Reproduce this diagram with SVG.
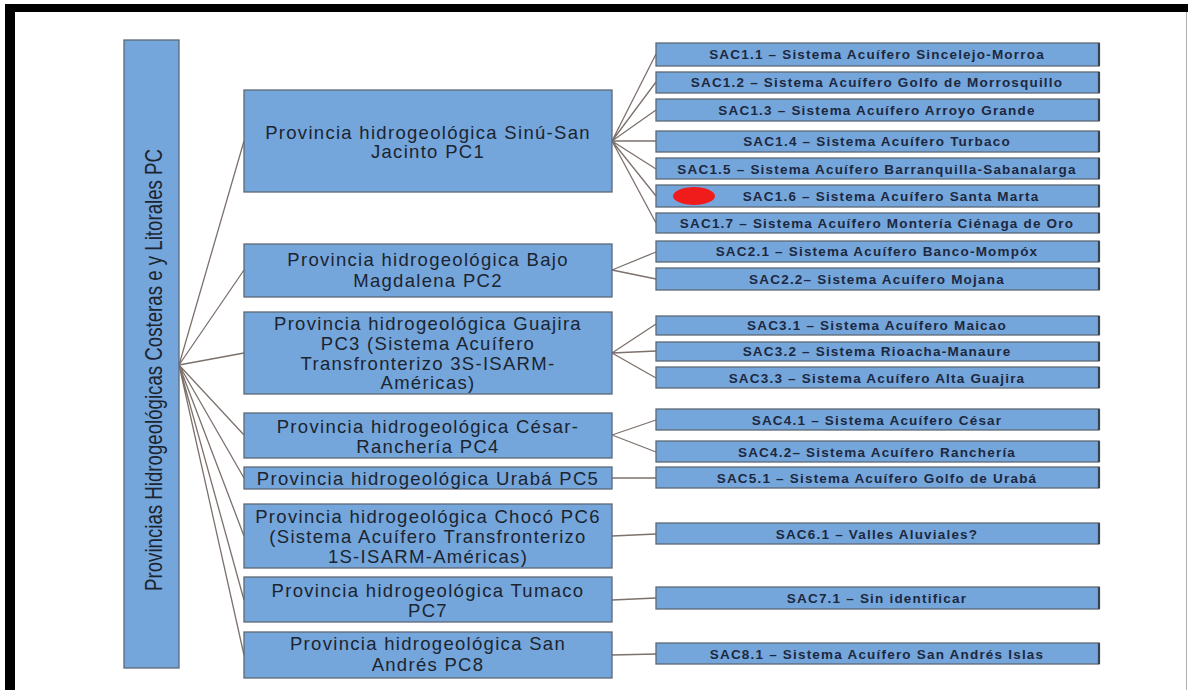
<svg xmlns="http://www.w3.org/2000/svg" width="1188" height="690" viewBox="0 0 1188 690">
<style>
.box{fill:#74a6db;stroke:#5d6875;stroke-width:1.3}
.sh{stroke:#39434e;stroke-width:2.2}
.pt{font-family:"Liberation Sans",Arial,sans-serif;font-size:18.5px;letter-spacing:1.3px;fill:#1c2430;text-anchor:middle}
.st{font-family:"Liberation Sans",Arial,sans-serif;font-size:13.5px;font-weight:bold;letter-spacing:1.2px;fill:#1d2840;text-anchor:middle}
.cn{stroke:#7c716c;stroke-width:1.3;fill:none}
</style>
<rect x="0" y="0" width="1188" height="690" fill="#ffffff"/>
<rect x="5" y="4" width="1183" height="8" fill="#000000"/>
<rect x="5" y="4" width="10" height="686" fill="#000000"/>
<line x1="1186.5" y1="12" x2="1186.5" y2="690" stroke="#b0b0b0" stroke-width="1"/>

<g id="connectors">
<path class="cn" d="M179,365 L244,141 M179,365 L244,270 M179,365 L244,353 M179,365 L244,435 M179,365 L244,478 M179,365 L244,536 M179,365 L244,600 M179,365 L244,655"/>
<path class="cn" d="M612,141 L656,54 M612,141 L656,82 M612,141 L656,110 M612,141 L656,141 M612,141 L656,169 M612,141 L656,196 M612,141 L656,223"/>
<path class="cn" d="M612,270 L656,252 M612,270 L656,279"/>
<path class="cn" d="M612,353 L656,324 M612,353 L656,351 M612,353 L656,378"/>
<path class="cn" d="M612,435 L656,420 M612,435 L656,452"/>
<path class="cn" d="M612,478 L656,478 M612,536 L656,534 M612,600 L656,598 M612,655 L656,654"/>
</g>

<g id="root">
<rect class="box" x="124" y="40" width="55" height="628"/>
<text font-family="'Liberation Sans',Arial,sans-serif" font-size="24" fill="#1c2430" text-anchor="middle" transform="translate(162,370) rotate(-90)" textLength="442" lengthAdjust="spacingAndGlyphs">Provincias Hidrogeológicas Costeras e y Litorales PC</text>
</g>

<g id="pc1"><rect class="box" x="244" y="90" width="368" height="102"/>
<text class="pt" x="428" y="139">Provincia hidrogeológica Sinú-San</text>
<text class="pt" x="428" y="158">Jacinto PC1</text></g>
<g id="pc2"><rect class="box" x="244" y="244" width="368" height="53"/>
<text class="pt" x="428" y="266">Provincia hidrogeológica Bajo</text>
<text class="pt" x="428" y="287">Magdalena PC2</text></g>
<g id="pc3"><rect class="box" x="244" y="312" width="368" height="82"/>
<text class="pt" x="428" y="330">Provincia hidrogeológica Guajira</text>
<text class="pt" x="428" y="350">PC3 (Sistema Acuífero</text>
<text class="pt" x="428" y="370">Transfronterizo 3S-ISARM-</text>
<text class="pt" x="428" y="389">Américas)</text></g>
<g id="pc4"><rect class="box" x="244" y="413" width="368" height="45"/>
<text class="pt" x="428" y="433">Provincia hidrogeológica César-</text>
<text class="pt" x="428" y="453">Ranchería PC4</text></g>
<g id="pc5"><rect class="box" x="244" y="467" width="368" height="22"/>
<text class="pt" x="428" y="485">Provincia hidrogeológica Urabá PC5</text></g>
<g id="pc6"><rect class="box" x="244" y="504" width="368" height="64"/>
<text class="pt" x="428" y="523">Provincia hidrogeológica Chocó PC6</text>
<text class="pt" x="428" y="543">(Sistema Acuífero Transfronterizo</text>
<text class="pt" x="428" y="563">1S-ISARM-Américas)</text></g>
<g id="pc7"><rect class="box" x="244" y="577" width="368" height="45"/>
<text class="pt" x="428" y="597">Provincia hidrogeológica Tumaco</text>
<text class="pt" x="428" y="617">PC7</text></g>
<g id="pc8"><rect class="box" x="244" y="632" width="368" height="46"/>
<text class="pt" x="428" y="650">Provincia hidrogeológica San</text>
<text class="pt" x="428" y="671">Andrés PC8</text></g>

<g id="sac11"><rect class="box" x="656" y="43" width="443" height="23"/><line class="sh" x1="1099" y1="43" x2="1099" y2="66"/><text class="st" x="877" y="59">SAC1.1 – Sistema Acuífero Sincelejo-Morroa</text></g>
<g id="sac12"><rect class="box" x="656" y="72" width="443" height="21"/><line class="sh" x1="1099" y1="72" x2="1099" y2="93"/><text class="st" x="877" y="87">SAC1.2 – Sistema Acuífero Golfo de Morrosquillo</text></g>
<g id="sac13"><rect class="box" x="656" y="99" width="443" height="22"/><line class="sh" x1="1099" y1="99" x2="1099" y2="121"/><text class="st" x="877" y="115">SAC1.3 – Sistema Acuífero Arroyo Grande</text></g>
<g id="sac14"><rect class="box" x="656" y="131" width="443" height="21"/><line class="sh" x1="1099" y1="131" x2="1099" y2="152"/><text class="st" x="877" y="146">SAC1.4 – Sistema Acuífero Turbaco</text></g>
<g id="sac15"><rect class="box" x="656" y="158" width="443" height="21"/><line class="sh" x1="1099" y1="158" x2="1099" y2="179"/><text class="st" x="877" y="174">SAC1.5 – Sistema Acuífero Barranquilla-Sabanalarga</text></g>
<g id="sac16"><rect class="box" x="656" y="185" width="443" height="22"/><line class="sh" x1="1099" y1="185" x2="1099" y2="207"/><ellipse cx="694" cy="196" rx="21" ry="9" fill="#f01c1c"/><text class="st" x="891" y="201">SAC1.6 – Sistema Acuífero Santa Marta</text></g>
<g id="sac17"><rect class="box" x="656" y="213" width="443" height="20"/><line class="sh" x1="1099" y1="213" x2="1099" y2="233"/><text class="st" x="877" y="228">SAC1.7 – Sistema Acuífero Montería Ciénaga de Oro</text></g>
<g id="sac21"><rect class="box" x="656" y="241" width="443" height="21"/><line class="sh" x1="1099" y1="241" x2="1099" y2="262"/><text class="st" x="877" y="256">SAC2.1 – Sistema Acuífero Banco-Mompóx</text></g>
<g id="sac22"><rect class="box" x="656" y="268" width="443" height="22"/><line class="sh" x1="1099" y1="268" x2="1099" y2="290"/><text class="st" x="877" y="284">SAC2.2– Sistema Acuífero Mojana</text></g>
<g id="sac31"><rect class="box" x="656" y="316" width="443" height="19"/><line class="sh" x1="1099" y1="316" x2="1099" y2="335"/><text class="st" x="877" y="330">SAC3.1 – Sistema Acuífero Maicao</text></g>
<g id="sac32"><rect class="box" x="656" y="342" width="443" height="19"/><line class="sh" x1="1099" y1="342" x2="1099" y2="361"/><text class="st" x="877" y="356">SAC3.2 – Sistema Rioacha-Manaure</text></g>
<g id="sac33"><rect class="box" x="656" y="367" width="443" height="21"/><line class="sh" x1="1099" y1="367" x2="1099" y2="388"/><text class="st" x="877" y="383">SAC3.3 – Sistema Acuífero Alta Guajira</text></g>
<g id="sac41"><rect class="box" x="656" y="409" width="443" height="21"/><line class="sh" x1="1099" y1="409" x2="1099" y2="430"/><text class="st" x="877" y="425">SAC4.1 – Sistema Acuífero César</text></g>
<g id="sac42"><rect class="box" x="656" y="441" width="443" height="21"/><line class="sh" x1="1099" y1="441" x2="1099" y2="462"/><text class="st" x="877" y="457">SAC4.2– Sistema Acuífero Ranchería</text></g>
<g id="sac51"><rect class="box" x="656" y="467" width="443" height="21"/><line class="sh" x1="1099" y1="467" x2="1099" y2="488"/><text class="st" x="877" y="483">SAC5.1 – Sistema Acuífero Golfo de Urabá</text></g>
<g id="sac61"><rect class="box" x="656" y="523" width="443" height="21"/><line class="sh" x1="1099" y1="523" x2="1099" y2="544"/><text class="st" x="877" y="539">SAC6.1 – Valles Aluviales?</text></g>
<g id="sac71"><rect class="box" x="656" y="587" width="443" height="22"/><line class="sh" x1="1099" y1="587" x2="1099" y2="609"/><text class="st" x="877" y="603">SAC7.1 – Sin identificar</text></g>
<g id="sac81"><rect class="box" x="656" y="643" width="443" height="21"/><line class="sh" x1="1099" y1="643" x2="1099" y2="664"/><text class="st" x="877" y="659">SAC8.1 – Sistema Acuífero San Andrés Islas</text></g>
</svg>
